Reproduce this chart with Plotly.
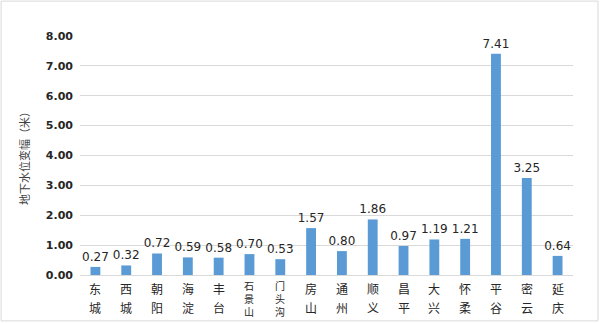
import plotly.graph_objects as go

districts = ["东城", "西城", "朝阳", "海淀", "丰台", "石景山", "门头沟", "房山",
             "通州", "顺义", "昌平", "大兴", "怀柔", "平谷", "密云", "延庆"]
values = [0.27, 0.32, 0.72, 0.59, 0.58, 0.70, 0.53, 1.57,
          0.80, 1.86, 0.97, 1.19, 1.21, 7.41, 3.25, 0.64]
y_ticks = [0, 1, 2, 3, 4, 5, 6, 7, 8]
y_title = "地下水位变幅（米）"

fig = go.Figure()
fig.add_trace(go.Bar(
    x=districts, y=values,
    marker=dict(color="#5B9BD5", line=dict(width=0)),
    text=[f"{v:.2f}" for v in values],
    textposition="outside",
    constraintext="none",
    textfont=dict(family="DejaVu Sans", size=12, color="#262626"),
    cliponaxis=False,
))

annotations = []
for d in districts:
    chars = list(d)
    if len(chars) == 2:
        for ch, off in zip(chars, [13, 32]):
            annotations.append(dict(
                x=d, y=0, xref="x", yref="y", text=ch, showarrow=False,
                yanchor="middle", yshift=-off,
                font=dict(family="Noto Sans CJK SC", size=12, color="#262626"),
            ))
    else:
        annotations.append(dict(
            x=d, y=0, xref="x", yref="y", text="<br>".join(chars), showarrow=False,
            yanchor="top", yshift=-1,
            font=dict(family="Noto Sans CJK SC", size=10, color="#262626"),
        ))

fig.update_layout(
    width=600, height=323,
    margin=dict(l=80, r=27, t=36, b=48),
    paper_bgcolor="white", plot_bgcolor="white",
    bargap=0.68,
    showlegend=False,
    annotations=annotations,
    shapes=[dict(type="rect", xref="paper", yref="paper",
                 x0=-0.160, x1=1.0507, y0=-0.192, y1=1.146,
                 line=dict(color="#D9D9D9", width=1), fillcolor="rgba(0,0,0,0)", layer="below")],
    xaxis=dict(showticklabels=False, showgrid=False, showline=True, linecolor="#D9D9D9",
               linewidth=1, ticks="", zeroline=False),
    yaxis=dict(range=[0, 8], tickvals=y_ticks, tickformat=".2f",
               showgrid=True, gridcolor="#D9D9D9", gridwidth=1, zeroline=False,
               showline=False, ticks="", ticklabelstandoff=6,
               tickfont=dict(family="DejaVu Sans", size=11, color="#262626", weight="bold"),
               title=dict(text=y_title, standoff=14,
                          font=dict(family="Noto Sans CJK SC", size=11, color="#404040"))),
)

fig.write_html("out.html")
